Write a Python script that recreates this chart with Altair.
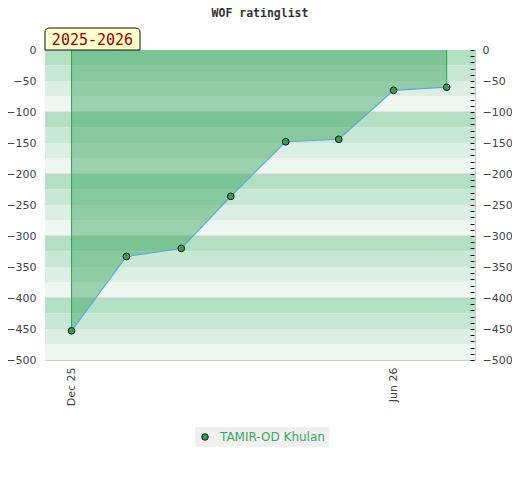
import altair as alt
import pandas as pd

# ---- data ----
chart_title = "WOF ratinglist"
season_label = ["2025-2026"]
player = "TAMIR-OD Khulan"
months = ["2025-12-01T00:00", "2026-01-01T00:00", "2026-02-01T00:00", "2026-03-01T00:00",
          "2026-04-01T00:00", "2026-05-01T00:00", "2026-06-01T00:00", "2026-07-01T00:00"]
ratings = [-453, -333, -320, -236, -148, -144, -65, -60]
y_ticks_major = [0, -50, -100, -150, -200, -250, -300, -350, -400, -450, -500]
y_ticks_minor = list(range(0, -501, -10))
block_lines = [-100, -200, -300, -400]
band_colors = ["#b3dfc3", "#c9e7d5", "#ddefe4", "#eff7f2"]

df = pd.DataFrame({"date": months, "rating": ratings, "name": player})
df["edge"] = [i in (0, len(months) - 1) for i in range(len(months))]

bands = []
for i in range(20):
    top = -25 * i
    bands.append({"top": top, "bot": top - 25, "c": band_colors[i % 4]})
bands_df = pd.DataFrame(bands)
lines_df = pd.DataFrame({"v": block_lines})

x_dom = [alt.DateTime(year=2025, month=11, date=16), alt.DateTime(year=2026, month=7, date=17)]
x_scale = alt.Scale(domain=x_dom)
y_scale = alt.Scale(domain=[-500, 0], nice=False, zero=False)

FONT = "DejaVu Sans"
MONO = "DejaVu Sans Mono"
GREEN = "#32a054"

band_layer = alt.Chart(bands_df).mark_rect().encode(
    y=alt.Y("top:Q", scale=y_scale,
            axis=alt.Axis(values=y_ticks_major, ticks=False, domain=False, grid=False,
                          labelPadding=9, labelColor="#444", labelFont=FONT, labelFontSize=11,
                          title=None)),
    y2="bot:Q",
    x=alt.value(0), x2=alt.value(430),
    fill=alt.Fill("c:N", scale=None),
)

line_rules = alt.Chart(lines_df).mark_rule(color="#cfcfcf", strokeWidth=1).encode(
    y=alt.Y("v:Q", scale=y_scale, axis=None),
    x=alt.value(0), x2=alt.value(430),
)

base = alt.Chart(df)

area = base.mark_area(color="#3da662", opacity=0.47, interpolate="linear").encode(
    x=alt.X("date:T", scale=x_scale,
            axis=alt.Axis(values=[alt.DateTime(year=2025, month=12, date=1),
                                  alt.DateTime(year=2026, month=6, date=1)],
                          format="%b %y", labelAngle=270, labelAlign="right",
                          labelBaseline="middle", labelPadding=7, ticks=False,
                          domain=False, grid=False, labelColor="#444",
                          labelFont=FONT, labelFontSize=11, title=None)),
    y=alt.Y("rating:Q", scale=y_scale, axis=None),
    y2=alt.datum(0),
)

edges = base.transform_filter("datum.edge").mark_rule(color="#2fa94f", strokeWidth=1).encode(
    x=alt.X("date:T", scale=x_scale),
    y=alt.Y("rating:Q", scale=y_scale, axis=None),
    y2=alt.datum(0),
)

line = base.mark_line(color="#5aa9dd", strokeWidth=1.2).encode(
    x=alt.X("date:T", scale=x_scale),
    y=alt.Y("rating:Q", scale=y_scale, axis=None),
)

points = base.mark_point(filled=True, size=45, stroke="#111", strokeWidth=1, opacity=1).encode(
    x=alt.X("date:T", scale=x_scale),
    y=alt.Y("rating:Q", scale=y_scale, axis=None),
    color=alt.Color("name:N", scale=alt.Scale(range=[GREEN]),
                    legend=alt.Legend(orient="none", legendX=150, legendY=377, title=None,
                                      fillColor="#f0f0f0", padding=4, symbolType="circle",
                                      symbolSize=42, symbolStrokeColor="#111",
                                      symbolStrokeWidth=1, symbolFillColor=GREEN,
                                      labelColor="#3aaa5c", labelFont=FONT, labelFontSize=12,
                                      labelOffset=9)),
)

right_axis = alt.Chart(bands_df).mark_rule(opacity=0).encode(
    y=alt.Y("top:Q", scale=y_scale,
            axis=alt.Axis(orient="right", values=y_ticks_minor,
                          labelExpr="datum.value % 50 == 0 ? datum.label : ''",
                          labelOverlap=False, tickSize=4, tickColor="#111", tickWidth=1,
                          offset=-5, labelPadding=8, domain=False, grid=False, zindex=1,
                          labelColor="#444", labelFont=FONT, labelFontSize=11, title=None)),
)

label_box = alt.Chart(pd.DataFrame({"s": season_label})).mark_rect(
    fill="#ffffcc", stroke="#111", strokeWidth=1,
    cornerRadiusTopLeft=4, cornerRadiusTopRight=4,
).encode(x=alt.value(0), x2=alt.value(95), y=alt.value(-22), y2=alt.value(0))

label_text = alt.Chart(pd.DataFrame({"s": season_label})).mark_text(
    font=MONO, fontSize=15, color="#990000", align="center", baseline="middle",
).encode(text="s:N", x=alt.value(47.5), y=alt.value(-10))

chart = alt.layer(
    band_layer, line_rules, area, edges, line, points, right_axis, label_box, label_text
).resolve_axis(y="independent").properties(
    width=430, height=310,
    title=alt.TitleParams(chart_title, font=MONO, fontSize=11.5, fontWeight="bold",
                          color="#333", anchor="middle", offset=8),
    autosize=alt.AutoSizeParams(type="none"),
    padding={"left": 37, "top": 42, "right": 37, "bottom": 100},
).configure_view(stroke="#cccccc", strokeWidth=1)

chart.save("out.html", embed_options={"renderer": "svg", "actions": False})
